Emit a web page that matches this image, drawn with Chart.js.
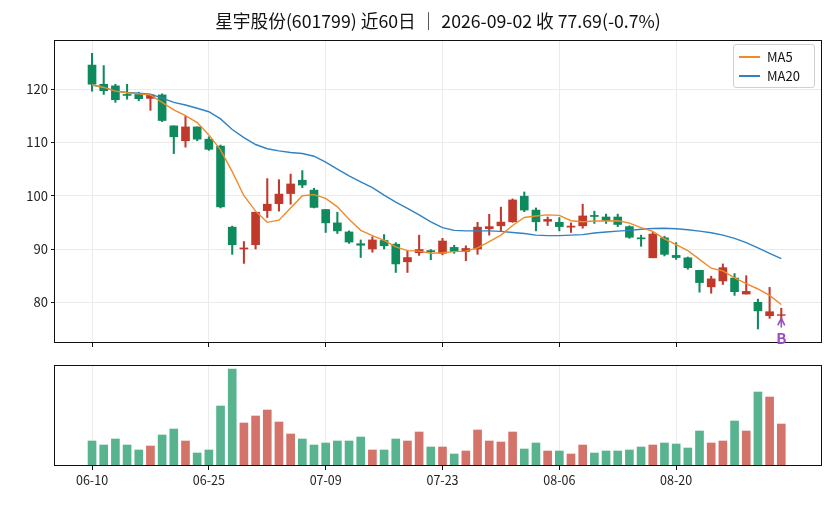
<!DOCTYPE html>
<html lang="zh">
<head>
<meta charset="UTF-8">
<title>星宇股份 近60日</title>
<script src="https://cdn.jsdelivr.net/npm/chart.js@4.4.1/dist/chart.umd.min.js"></script>
<style>
  body { margin: 0; background: #fff; font-family: "Noto Sans CJK SC", "Noto Sans", sans-serif; }
  #wrap { position: relative; width: 836px; height: 506px; overflow: hidden; }
  #title { position: absolute; left: 55px; width: 766px; top: 9px; line-height: 22px;
           text-align: center; font-size: 17.7px; color: #111; }
  #main { position: absolute; left: 0; top: 0; }
  #vol { position: absolute; left: 0; top: 350px; }
  #legend { position: absolute; left: 733px; top: 44px; width: 80px; height: 42px;
            border: 1px solid #d0d0d0; border-radius: 3px; background: rgba(255,255,255,0.85);
            font-size: 13px; color: #111; }
  #legend .item { position: absolute; left: 0; height: 18px; line-height: 18px; }
  #legend .sw { position: absolute; left: 5px; top: 8px; width: 21px; height: 2px; }
  #legend .txt { position: absolute; left: 33px; top: 0; white-space: nowrap; }
</style>
</head>
<body>
<div id="wrap">
  <canvas id="main" width="836" height="360"></canvas>
  <canvas id="vol" width="836" height="156"></canvas>
  <div id="title">星宇股份(601799) 近60日 ｜ 2026-09-02 收 77.69(-0.7%)</div>
  <div id="legend"></div>
</div>
<script>
// trading days
const dates = ['06-10','06-11','06-12','06-15','06-16','06-17','06-18','06-22','06-23','06-24',
  '06-25','06-26','06-29','06-30','07-01','07-02','07-03','07-06','07-07','07-08',
  '07-09','07-10','07-13','07-14','07-15','07-16','07-17','07-20','07-21','07-22',
  '07-23','07-24','07-27','07-28','07-29','07-30','07-31','08-03','08-04','08-05',
  '08-06','08-07','08-10','08-11','08-12','08-13','08-14','08-17','08-18','08-19',
  '08-20','08-21','08-24','08-25','08-26','08-27','08-28','08-31','09-01','09-02'];

const open = [124.5,120.9,120.6,119.0,119.0,118.25,118.9,113.1,110.3,112.9,
  110.6,109.3,94.1,90.0,90.8,97.2,98.5,100.4,102.9,101.05,
  97.4,94.9,93.2,91.0,90.0,91.6,90.9,87.6,89.3,89.7,
  89.2,90.3,89.55,90.0,93.8,94.35,95.1,99.9,97.3,95.2,
  95.0,94.1,94.35,96.3,96.0,96.0,94.2,92.1,88.35,92.1,
  88.8,88.35,86.0,82.9,84.0,84.55,81.55,80.0,77.5,77.55];
const high = [126.7,124.4,120.9,120.9,119.4,119.0,119.1,113.1,114.9,112.9,
  111.05,109.5,94.3,91.4,96.9,103.2,103.0,104.05,104.7,101.4,
  97.4,96.9,93.4,91.7,92.3,92.7,91.2,89.6,92.6,89.9,
  92.0,90.7,90.6,95.0,96.5,97.85,99.4,100.7,97.7,96.0,
  95.9,94.9,98.4,97.1,96.55,96.55,94.35,92.6,93.1,92.4,
  91.2,88.5,86.0,84.9,87.2,85.4,85.0,80.6,82.8,78.9];
const low = [119.6,119.0,117.5,118.1,117.8,116.0,113.9,107.9,109.1,110.3,
  108.5,97.7,89.0,87.3,90.0,95.9,97.1,98.4,101.5,97.7,
  93.1,92.9,91.05,88.4,89.4,90.0,85.6,85.6,88.8,88.0,
  88.9,89.2,87.8,89.0,92.6,93.4,95.0,97.0,93.4,94.4,
  93.4,93.1,93.9,94.8,94.8,94.2,92.0,90.5,88.35,88.7,
  88.05,86.2,81.9,81.7,83.35,81.3,81.55,75.0,77.0,76.8];
const close = [120.9,119.7,118.0,118.8,118.2,118.9,114.1,111.05,112.9,110.6,
  108.7,97.9,90.8,90.2,96.9,98.4,100.3,102.2,102.0,97.8,
  94.9,93.4,91.3,90.7,91.7,90.6,87.2,88.4,89.9,89.5,
  91.5,89.55,90.1,94.1,94.2,95.05,99.2,97.3,95.1,95.55,
  94.2,94.3,96.2,96.1,95.35,94.6,92.2,91.9,92.8,89.0,
  88.4,86.5,83.7,84.4,86.5,82.0,82.05,78.4,78.24,77.69];

const ma5 = [120.8,120.3,119.6,119.3,119.1,118.9,117.5,116.1,115.0,113.7,
  111.4,108.6,104.5,100.0,97.1,95.0,95.4,97.7,100.0,100.2,
  99.5,97.9,95.6,93.5,92.5,91.6,90.4,89.7,89.6,89.2,
  89.3,89.5,89.6,90.2,91.4,92.6,94.4,95.9,96.2,96.4,
  96.3,95.3,95.1,95.25,95.25,95.3,94.85,94.0,93.3,91.9,
  90.8,89.7,88.05,86.4,85.9,84.6,83.5,82.5,81.3,79.6];
const ma20 = [120.75,120.3,119.6,119.35,119.2,119.05,118.3,117.5,117.0,116.4,
  115.75,114.4,112.4,110.9,109.6,108.8,108.4,108.1,107.9,107.4,
  106.3,105.0,103.7,102.6,101.5,100.1,98.8,97.6,96.4,95.1,
  94.0,93.5,93.4,93.4,93.4,93.3,93.1,92.9,92.6,92.5,
  92.5,92.6,92.7,93.0,93.2,93.35,93.5,93.7,93.85,93.9,
  93.8,93.6,93.35,93.05,92.6,92.0,91.2,90.2,89.2,88.2];

// volume, 万手
const volume = [2.5,2.1,2.7,2.1,1.6,2.0,3.1,3.7,2.5,1.3,
  1.6,6.0,9.7,4.3,5.0,5.6,4.4,3.2,2.7,2.1,
  2.3,2.5,2.5,2.9,1.6,1.6,2.7,2.5,3.4,1.9,
  1.9,1.2,1.5,3.6,2.5,2.4,3.4,1.7,2.3,1.5,
  1.5,1.2,2.1,1.3,1.5,1.5,1.6,1.9,2.1,2.3,
  2.2,1.8,3.5,2.3,2.5,4.5,3.5,7.4,6.9,4.2];

const tickIdx = [0, 10, 20, 30, 40, 50];
const yTicks = [80, 90, 100, 110, 120];
const buyIdx = [59];

const FONT = '"Noto Sans CJK SC", "Noto Sans", sans-serif';
const upColor = '#c0392b', downColor = '#0f8a5d';
const upVol = '#d3736a', downVol = '#58b38f';
const ma5Color = '#f08a2b', ma20Color = '#2f82c3';
const gridColor = '#ebebeb';
const xMin = -3.17, xMax = 62.4;

const isUp = close.map((c, i) => c >= open[i]);
const candleColor = isUp.map(u => u ? upColor : downColor);
const volColor = isUp.map(u => u ? upVol : downVol);

// axis frame like matplotlib spines
const frame = {
  id: 'frame',
  afterDraw(c) {
    const a = c.chartArea, ctx = c.ctx;
    ctx.save();
    ctx.strokeStyle = '#111';
    ctx.lineWidth = 1;
    ctx.strokeRect(Math.round(a.left) - 0.5, Math.round(a.top) + 0.5,
                   Math.round(a.width) + 1, Math.round(a.height) - 1);
    ctx.restore();
  }
};

// buy marker under the candle
const signals = {
  id: 'signals',
  afterDraw(c) {
    const ctx = c.ctx, xs = c.scales.x, ys = c.scales.y;
    ctx.save();
    ctx.strokeStyle = '#9b4fc0';
    ctx.fillStyle = '#9b4fc0';
    ctx.lineWidth = 1.6;
    buyIdx.forEach(i => {
      const x = xs.getPixelForValue(i);
      const y = ys.getPixelForValue(low[i]) - 1;
      ctx.beginPath();
      ctx.moveTo(x, y + 9); ctx.lineTo(x, y + 1);
      ctx.moveTo(x - 3.5, y + 7); ctx.lineTo(x, y); ctx.lineTo(x + 3.5, y + 7);
      ctx.stroke();
      ctx.font = 'bold 15px ' + FONT;
      ctx.textAlign = 'center';
      ctx.textBaseline = 'middle';
      ctx.fillText('B', x, y + 20);
    });
    ctx.restore();
  }
};

const xAxisBase = {
  type: 'linear', min: xMin, max: xMax, offset: false,
  afterBuildTicks: s => { s.ticks = tickIdx.map(v => ({ value: v })); },
  grid: { color: gridColor, lineWidth: 1, offset: false, tickColor: '#111', tickLength: 4, drawTicks: true },
  border: { display: false }
};

new Chart(document.getElementById('main'), {
  type: 'bar',
  data: {
    datasets: [
      { type: 'line', label: 'MA5', data: ma5.map((v, i) => ({ x: i, y: v })),
        borderColor: ma5Color, borderWidth: 1.4, pointRadius: 0, tension: 0, order: 0 },
      { type: 'line', label: 'MA20', data: ma20.map((v, i) => ({ x: i, y: v })),
        borderColor: ma20Color, borderWidth: 1.4, pointRadius: 0, tension: 0, order: 0 },
      { label: 'body', data: open.map((o, i) => ({ x: i, y: [o, close[i]] })),
        backgroundColor: candleColor, barThickness: 8, grouped: false, borderSkipped: false, order: 1 },
      { label: 'wick', data: low.map((l, i) => ({ x: i, y: [l, high[i]] })),
        backgroundColor: candleColor, barThickness: 1.4, grouped: false, borderSkipped: false, order: 2 }
    ]
  },
  options: {
    responsive: false, animation: false, devicePixelRatio: 1,
    layout: { padding: { top: 40, right: 15, bottom: 12, left: 0 } },
    plugins: { legend: { display: false }, tooltip: { enabled: false } },
    scales: {
      x: Object.assign({}, xAxisBase, {
        ticks: { display: false },
        afterFit: s => { s.height = 5; }
      }),
      y: {
        min: 72.37, max: 129.2,
        afterBuildTicks: s => { s.ticks = yTicks.map(v => ({ value: v })); },
        afterFit: s => { s.width = 55; },
        ticks: { font: { size: 13, family: FONT }, color: '#222', padding: 3 },
        grid: { color: gridColor, lineWidth: 1, tickColor: '#111', tickLength: 4 },
        border: { display: false }
      }
    }
  },
  plugins: [frame, signals]
});

new Chart(document.getElementById('vol'), {
  type: 'bar',
  data: {
    datasets: [
      { label: '成交量', data: volume.map((v, i) => ({ x: i, y: v })),
        backgroundColor: volColor, barThickness: 8 }
    ]
  },
  options: {
    responsive: false, animation: false, devicePixelRatio: 1,
    layout: { padding: { top: 15, right: 15, bottom: 0, left: 0 } },
    plugins: { legend: { display: false }, tooltip: { enabled: false } },
    scales: {
      x: Object.assign({}, xAxisBase, {
        ticks: { display: true, autoSkip: false, maxRotation: 0, padding: 3,
                 font: { size: 12.5, family: FONT }, color: '#222',
                 callback: v => dates[v] },
        afterFit: s => { s.height = 40; }
      }),
      y: {
        min: 0, max: 10.1,
        afterFit: s => { s.width = 55; },
        ticks: { display: false },
        grid: { display: false },
        border: { display: false }
      }
    }
  },
  plugins: [frame]
});

// legend
const legend = document.getElementById('legend');
[['MA5', ma5Color], ['MA20', ma20Color]].forEach(([name, col], k) => {
  const it = document.createElement('div');
  it.className = 'item';
  it.style.top = (3 + k * 19) + 'px';
  it.innerHTML = '<span class="sw" style="background:' + col + '"></span><span class="txt">' + name + '</span>';
  legend.appendChild(it);
});
</script>
</body>
</html>
